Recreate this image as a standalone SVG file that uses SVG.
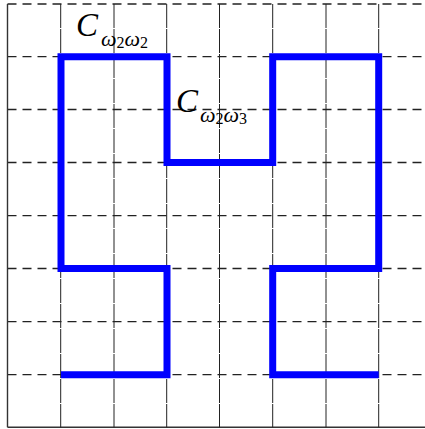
<svg xmlns="http://www.w3.org/2000/svg" width="425" height="429" viewBox="0 0 425 429">
<style>
.h{stroke:#222;stroke-width:1.3;stroke-dasharray:9 6;fill:none}
.v{stroke:#222;stroke-width:1;stroke-dasharray:24 1;fill:none}
.b{stroke:#333;stroke-width:1.4;fill:none}
.curve{stroke:#0000ff;stroke-width:7;fill:none;stroke-linejoin:miter;stroke-linecap:butt}
.lbl{font-family:"Liberation Serif","DejaVu Serif",serif;font-style:italic;fill:#000}
.d{font-style:normal;font-size:16px}
</style>
<rect width="425" height="429" fill="#fff"/>
<g id="grid">
<line class="h" x1="7.5" y1="4" x2="425" y2="4"/>
<line class="h" x1="7.5" y1="56.7" x2="425" y2="56.7"/>
<line class="h" x1="7.5" y1="109.5" x2="425" y2="109.5"/>
<line class="h" x1="7.5" y1="162.5" x2="425" y2="162.5"/>
<line class="h" x1="7.5" y1="215.7" x2="425" y2="215.7"/>
<line class="h" x1="7.5" y1="268.5" x2="425" y2="268.5"/>
<line class="h" x1="7.5" y1="321.7" x2="425" y2="321.7"/>
<line class="h" x1="7.5" y1="374.7" x2="425" y2="374.7"/>
<line class="b" x1="7.5" y1="427.3" x2="425" y2="427.3"/>
<line class="b" x1="7.5" y1="4" x2="7.5" y2="427.3"/>
<line class="v" x1="60.7" y1="4" x2="60.7" y2="427.3"/>
<line class="v" x1="114" y1="4" x2="114" y2="427.3"/>
<line class="v" x1="166.7" y1="4" x2="166.7" y2="427.3"/>
<line class="v" x1="219.5" y1="4" x2="219.5" y2="427.3"/>
<line class="v" x1="272.7" y1="4" x2="272.7" y2="427.3"/>
<line class="v" x1="326" y1="4" x2="326" y2="427.3"/>
<line class="v" x1="378.7" y1="4" x2="378.7" y2="427.3"/>
</g>
<g id="connectors">
<path class="curve" d="M61,374.7 H167 V268.5 H61 V56.7 H167 V162.5 H272.7 V56.7 H378.7 V268.5 H272.7 V374.7 H378.7"/>
</g>
<g id="label1">
<text class="lbl" x="76" y="36" font-size="33">C</text>
<text class="lbl" x="101" y="46" font-size="22">ω<tspan class="d" dy="2">2</tspan><tspan dy="-2">ω</tspan><tspan class="d" dy="2">2</tspan></text>
</g>
<g id="label2">
<text class="lbl" x="176" y="112" font-size="33">C</text>
<text class="lbl" x="200" y="122" font-size="22">ω<tspan class="d" dy="2">2</tspan><tspan dy="-2">ω</tspan><tspan class="d" dy="2">3</tspan></text>
</g>
</svg>
